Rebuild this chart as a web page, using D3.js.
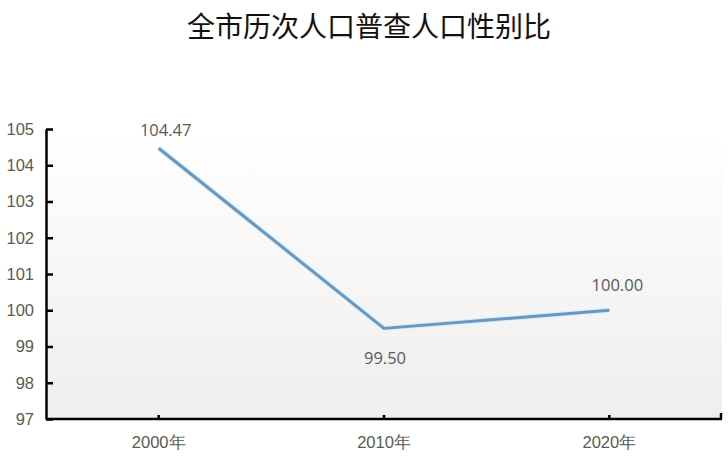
<!DOCTYPE html>
<html>
<head>
<meta charset="utf-8">
<script src="https://cdn.jsdelivr.net/npm/d3@7"></script>
<style>
  html, body { margin: 0; padding: 0; background: #fff; }
  svg { display: block; font-family: "Open Sans", "Noto Sans CJK SC", sans-serif; }
  .axis path, .axis line { stroke: #000; stroke-width: 2.5px; }
  .axis text { fill: #595959; font-size: 16.5px; }
  .value-label { fill: #595959; font-size: 16.5px; }
</style>
</head>
<body>
<svg id="chart" width="728" height="463"></svg>
<script>
const title = '全市历次人口普查人口性别比';
const years = ['2000年', '2010年', '2020年'];
const sexRatio = [104.47, 99.50, 100.00];
const yTicks = [97, 98, 99, 100, 101, 102, 103, 104, 105];
// label offsets relative to the point (dx, dy)
const labelOffsets = [[7, -19], [1, 29], [8, -26]];

const svg = d3.select('#chart');
const margin = { top: 129, right: 6, bottom: 44, left: 46 };
const width = 728 - margin.left - margin.right;
const height = 463 - margin.top - margin.bottom;

const defs = svg.append('defs');
const grad = defs.append('linearGradient')
  .attr('id', 'plotBg')
  .attr('x1', 0).attr('y1', 0).attr('x2', 0).attr('y2', 1);
grad.append('stop').attr('offset', '0%').attr('stop-color', '#ffffff');
grad.append('stop').attr('offset', '100%').attr('stop-color', '#eeeeee');

svg.append('text')
  .attr('x', 369)
  .attr('y', 25)
  .attr('text-anchor', 'middle')
  .attr('dominant-baseline', 'central')
  .style('font-family', '"Noto Sans CJK SC", sans-serif')
  .style('font-size', '28px')
  .style('fill', '#111')
  .text(title);

const g = svg.append('g')
  .attr('transform', `translate(${margin.left},${margin.top})`);

const x = d3.scaleBand().domain(years).range([0, width]);
const y = d3.scaleLinear().domain([97, 105]).range([height, 0]);

g.append('rect')
  .attr('width', width)
  .attr('height', height)
  .attr('fill', 'url(#plotBg)');

// y axis, ticks pointing inward
const yAxis = g.append('g')
  .attr('class', 'axis')
  .call(d3.axisRight(y).tickValues(yTicks).tickSize(7).tickSizeOuter(0).tickFormat(d3.format('d')));
yAxis.selectAll('text')
  .attr('x', -12)
  .attr('text-anchor', 'end');

// x axis at bottom, ticks at band centres and right edge
const xAxis = g.append('g')
  .attr('class', 'axis')
  .attr('transform', `translate(0,${height})`)
  .call(d3.axisTop(x).tickSize(4).tickSizeOuter(0));
xAxis.select('.domain').remove();
xAxis.append('line')
  .attr('x1', 0).attr('x2', width)
  .attr('stroke', '#000').attr('stroke-width', 2.5);
xAxis.append('line')
  .attr('x1', width - 1).attr('x2', width - 1)
  .attr('y1', 0).attr('y2', -6)
  .attr('stroke', '#000').attr('stroke-width', 2.5);
xAxis.selectAll('.tick text')
  .attr('y', 24)
  .attr('dy', '0.32em');

const data = years.map((yr, i) => ({ year: yr, value: sexRatio[i] }));
const cx = d => x(d.year) + x.bandwidth() / 2;

const line = d3.line()
  .x(cx)
  .y(d => y(d.value));

g.append('path')
  .datum(data)
  .attr('fill', 'none')
  .attr('stroke', '#d6ecfa')
  .attr('stroke-width', 5)
  .attr('stroke-linejoin', 'round')
  .attr('d', line);

g.append('path')
  .datum(data)
  .attr('fill', 'none')
  .attr('stroke', '#6898c0')
  .attr('stroke-width', 3)
  .attr('stroke-linejoin', 'round')
  .attr('d', line);

g.selectAll('.value-label')
  .data(data)
  .enter()
  .append('text')
  .attr('class', 'value-label')
  .attr('x', (d, i) => cx(d) + labelOffsets[i][0])
  .attr('y', (d, i) => y(d.value) + labelOffsets[i][1])
  .attr('text-anchor', 'middle')
  .attr('dominant-baseline', 'central')
  .text(d => d.value.toFixed(2));
</script>
</body>
</html>
